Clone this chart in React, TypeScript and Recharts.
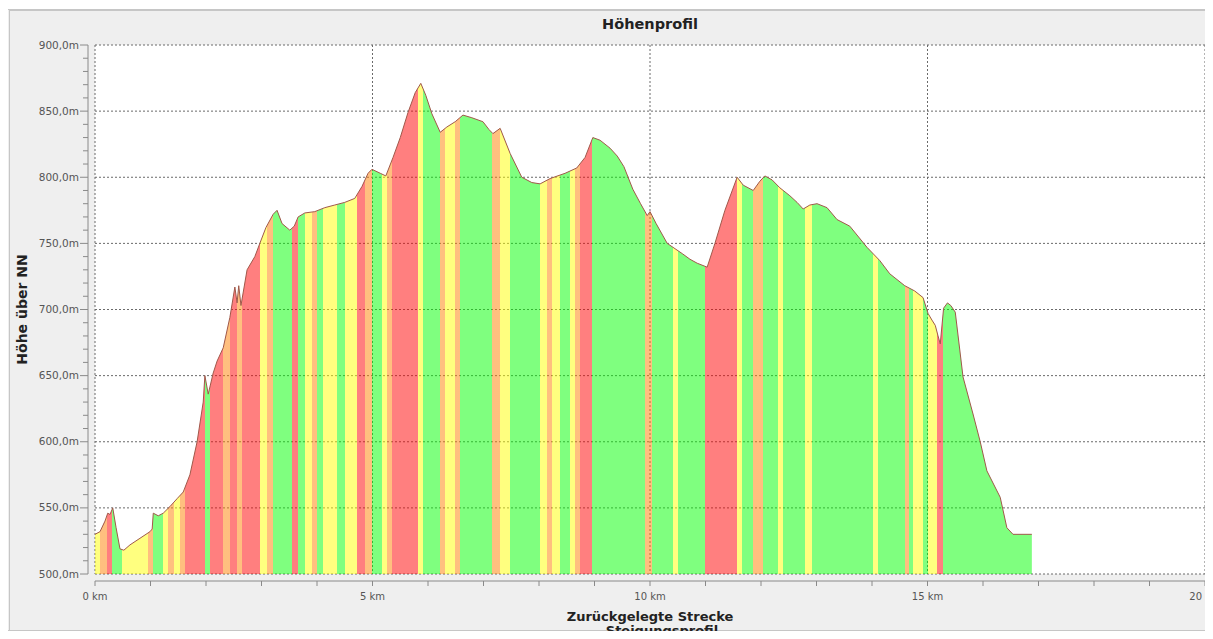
import React from 'react';
import { ComposedChart, Area, XAxis, YAxis, CartesianGrid, ReferenceLine } from 'recharts';

const distanceKm = [
  0.0, 0.09, 0.18, 0.23, 0.27, 0.32, 0.38, 0.45, 0.52, 0.63, 0.81, 0.99, 1.03, 1.05, 1.14, 1.23, 1.35, 1.48, 1.59, 1.71,
  1.84, 1.95, 1.98, 2.04, 2.13, 2.2, 2.31, 2.43, 2.52, 2.56, 2.59, 2.63, 2.74, 2.88, 2.97, 3.08, 3.21, 3.28, 3.37, 3.51,
  3.59, 3.66, 3.78, 3.96, 4.14, 4.32, 4.5, 4.68, 4.81, 4.92, 4.99, 5.14, 5.24, 5.37, 5.5, 5.64, 5.77, 5.87, 5.96, 6.07,
  6.22, 6.34, 6.49, 6.63, 6.79, 6.99, 7.1, 7.17, 7.3, 7.48, 7.69, 7.87, 8.02, 8.2, 8.47, 8.68, 8.83, 8.97, 9.1, 9.28,
  9.41, 9.53, 9.69, 9.83, 9.95, 10.0, 10.11, 10.31, 10.45, 10.59, 10.72, 10.85, 11.03, 11.17, 11.35, 11.57, 11.68, 11.86, 11.98, 12.07,
  12.2, 12.34, 12.52, 12.65, 12.76, 12.88, 13.01, 13.19, 13.37, 13.6, 13.91, 14.14, 14.32, 14.59, 14.77, 14.92, 15.01, 15.08, 15.14, 15.19,
  15.23, 15.29, 15.36, 15.42, 15.5, 15.64, 15.82, 15.95, 16.07, 16.31, 16.43, 16.54, 16.88,
];

const elevationM = [
  530, 532, 540, 546, 545, 550, 535, 519, 518, 522, 527, 532, 534, 546, 544, 546, 551, 557, 562, 575,
  600, 630, 650, 636, 652, 661, 671, 694, 717, 705, 718, 703, 730, 740, 750, 762, 772, 775, 765, 760,
  763, 770, 773, 774, 777, 779, 781, 784, 793, 803, 806, 803, 801, 815, 830, 849, 864, 871, 862, 848,
  834, 838, 842, 847, 845, 842, 836, 833, 837, 818, 800, 796, 795, 799, 803, 807, 815, 830, 828, 822,
  816, 808, 791, 780, 771, 774, 765, 750, 746, 742, 738, 735, 732, 750, 775, 800, 794, 790, 797, 801,
  798, 792, 786, 781, 776, 779, 780, 777, 768, 763, 747, 737, 727, 718, 714, 709, 697, 692, 688, 680,
  674, 701, 705, 703, 698, 649, 621, 600, 578, 558, 535, 530, 530,
];

// slope-class bands along the route: start distance and class (G flat/down, Y moderate, O steeper, R steep)
const bandStartKm = [
  0.0, 0.09, 0.22, 0.31, 0.49, 0.95, 1.05, 1.23, 1.32, 1.42, 1.53, 1.62, 1.98, 2.07, 2.31, 2.43, 2.56, 2.65, 2.97, 3.1,
  3.21, 3.55, 3.66, 3.78, 3.91, 4.0, 4.11, 4.36, 4.5, 4.72, 4.86, 4.99, 5.17, 5.26, 5.35, 5.82, 5.91, 6.22, 6.31, 6.49,
  6.58, 7.15, 7.3, 7.48, 8.02, 8.14, 8.23, 8.38, 8.56, 8.65, 8.74, 8.95, 9.91, 10.04, 10.41, 10.5, 10.99, 11.57, 11.66, 11.86,
  12.04, 12.31, 12.4, 12.79, 12.92, 14.02, 14.11, 14.59, 14.66, 14.74, 14.92, 15.01, 15.17, 15.28,
];
const bandClass = [
  'Y', 'O', 'R', 'G', 'Y', 'O', 'G', 'Y', 'O', 'Y', 'O', 'R', 'G', 'R', 'O', 'R', 'O', 'R', 'Y', 'O',
  'G', 'R', 'G', 'Y', 'O', 'G', 'Y', 'G', 'Y', 'R', 'O', 'G', 'Y', 'O', 'R', 'Y', 'G', 'O', 'Y', 'O',
  'G', 'O', 'Y', 'G', 'Y', 'O', 'Y', 'G', 'Y', 'O', 'R', 'G', 'O', 'G', 'Y', 'G', 'R', 'Y', 'G', 'O',
  'G', 'Y', 'G', 'Y', 'G', 'Y', 'G', 'O', 'G', 'Y', 'G', 'Y', 'R', 'G',
];

const classColor: Record<string, string> = { G: '#00ff00', Y: '#ffff00', O: '#ff8000', R: '#ff0000' };

const yMajorTicks = [500, 550, 600, 650, 700, 750, 800, 850, 900];
const yMinorTicks = Array.from({ length: 41 }, (_, i) => 500 + i * 10);
const xTicks = Array.from({ length: 21 }, (_, i) => i);
const xLabelTicks = [0, 5, 10, 15, 20];

const data = distanceKm.map((km, i) => ({ km, m: elevationM[i] }));
const totalKm = distanceKm[distanceKm.length - 1];

const stops: { offset: number; color: string }[] = [];
bandStartKm.forEach((s, i) => {
  const e = i + 1 < bandStartKm.length ? bandStartKm[i + 1] : totalKm;
  const c = classColor[bandClass[i]];
  stops.push({ offset: s / totalKm, color: c });
  stops.push({ offset: e / totalKm, color: c });
});

const FONT = '"DejaVu Sans", Verdana, sans-serif';
const GAP = 7; // distance between plot area and the drawn axis lines
const AXIS_COLOR = '#8a8a8a';

const fmtY = (v: number) => `${v.toFixed(1).replace('.', ',')}m`;

const YTick = (props: any) => {
  const { x, y, payload } = props;
  const v = payload.value;
  const major = v % 50 === 0;
  const ax = x - GAP;
  return (
    <g>
      <line x1={ax - (major ? 8 : 5)} x2={ax} y1={y} y2={y} stroke={AXIS_COLOR} strokeWidth={1} />
      {major && (
        <text x={ax - 9} y={y} dy={3.5} textAnchor="end" fontSize={10.5} fill="#555" fontFamily={FONT}>
          {fmtY(v)}
        </text>
      )}
    </g>
  );
};

const XTick = (props: any) => {
  const { x, y, payload } = props;
  const v = payload.value;
  const ay = y + GAP;
  return (
    <g>
      <line x1={x} x2={x} y1={ay} y2={ay + 5} stroke={AXIS_COLOR} strokeWidth={1} />
      {xLabelTicks.includes(v) && (
        <text x={x} y={ay + 19} textAnchor="middle" fontSize={10} fill="#555" fontFamily={FONT}>
          {`${v} km`}
        </text>
      )}
    </g>
  );
};

const YAxisLineShape = (p: any) => (
  <line x1={p.x1 - GAP} x2={p.x2 - GAP} y1={p.y1} y2={p.y2} stroke={AXIS_COLOR} strokeWidth={1} />
);
const XAxisLineShape = (p: any) => (
  <line x1={p.x1} x2={p.x2} y1={p.y1 + GAP} y2={p.y2 + GAP} stroke={AXIS_COLOR} strokeWidth={1} />
);

const YLabel = (props: any) => {
  const vb = props.viewBox || {};
  const cx = vb.x + 22;
  const cy = vb.y + vb.height / 2;
  return (
    <text x={cx} y={cy} transform={`rotate(-90 ${cx} ${cy})`} textAnchor="middle" dy={5} fontSize={14} fontWeight="bold" fill="#222" fontFamily={FONT}>
      Höhe über NN
    </text>
  );
};

const XLabel = (props: any) => {
  const vb = props.viewBox || {};
  return (
    <text x={vb.x + vb.width / 2} y={vb.y + 47} textAnchor="middle" fontSize={13} fontWeight="bold" fill="#222" fontFamily={FONT}>
      Zurückgelegte Strecke
    </text>
  );
};

export default function App() {
  return (
    <div style={{ position: 'relative', width: 1213, height: 639, margin: -8, background: '#fff', overflow: 'hidden', fontFamily: FONT }}>
      <div style={{ position: 'absolute', left: 7, top: 9, width: 1206, height: 622, background: '#efefef', borderTop: '2px solid #c6c6c6', borderLeft: '3px double #c6c6c6', borderBottom: '1px solid #c6c6c6', boxSizing: 'border-box' }} />
      <div style={{ position: 'absolute', left: 0, width: 1300, top: 16, textAlign: 'center', fontSize: 14.5, fontWeight: 'bold', color: '#222' }}>Höhenprofil</div>
      <div style={{ position: 'absolute', left: 0, width: 1324, top: 623, textAlign: 'center', fontSize: 13, lineHeight: '15px', fontWeight: 'bold', color: '#222' }}>Steigungsprofil</div>
      <div style={{ position: 'absolute', left: 0, top: 0 }}>
        <ComposedChart width={1213} height={639} data={data} margin={{ top: 45, right: 8, bottom: 0, left: 0 }}>
          <defs>
            <linearGradient id="slopeFill" x1="0" y1="0" x2="1" y2="0">
              {stops.map((s, i) => (
                <stop key={i} offset={s.offset} stopColor={s.color} />
              ))}
            </linearGradient>
          </defs>
          <XAxis
            type="number"
            dataKey="km"
            domain={[0, 20]}
            ticks={xTicks}
            interval={0}
            height={65}
            tickSize={0}
            tickMargin={0}
            axisLine={false}
            tickLine={false}
            tick={<XTick />}
            label={<XLabel />}
          />
          <YAxis
            type="number"
            domain={[500, 900]}
            ticks={yMinorTicks}
            interval={0}
            width={95}
            tickSize={0}
            tickMargin={0}
            tickLine={false}
            axisLine={false}
            tick={<YTick />}
            label={<YLabel />}
          />
          <CartesianGrid
            fill="#ffffff"
            stroke="#6a6a6a"
            strokeDasharray="2 2"
            horizontalValues={yMajorTicks}
            verticalValues={xLabelTicks}
          />
          <Area
            type="linear"
            dataKey="m"
            stroke="#a0584a"
            strokeWidth={1}
            fill="url(#slopeFill)"
            fillOpacity={0.5}
            baseValue={500}
            isAnimationActive={false}
            dot={false}
            activeDot={false}
          />
          <ReferenceLine x={0} ifOverflow="visible" shape={YAxisLineShape} />
          <ReferenceLine y={500} ifOverflow="visible" shape={XAxisLineShape} />
        </ComposedChart>
      </div>
    </div>
  );
}
